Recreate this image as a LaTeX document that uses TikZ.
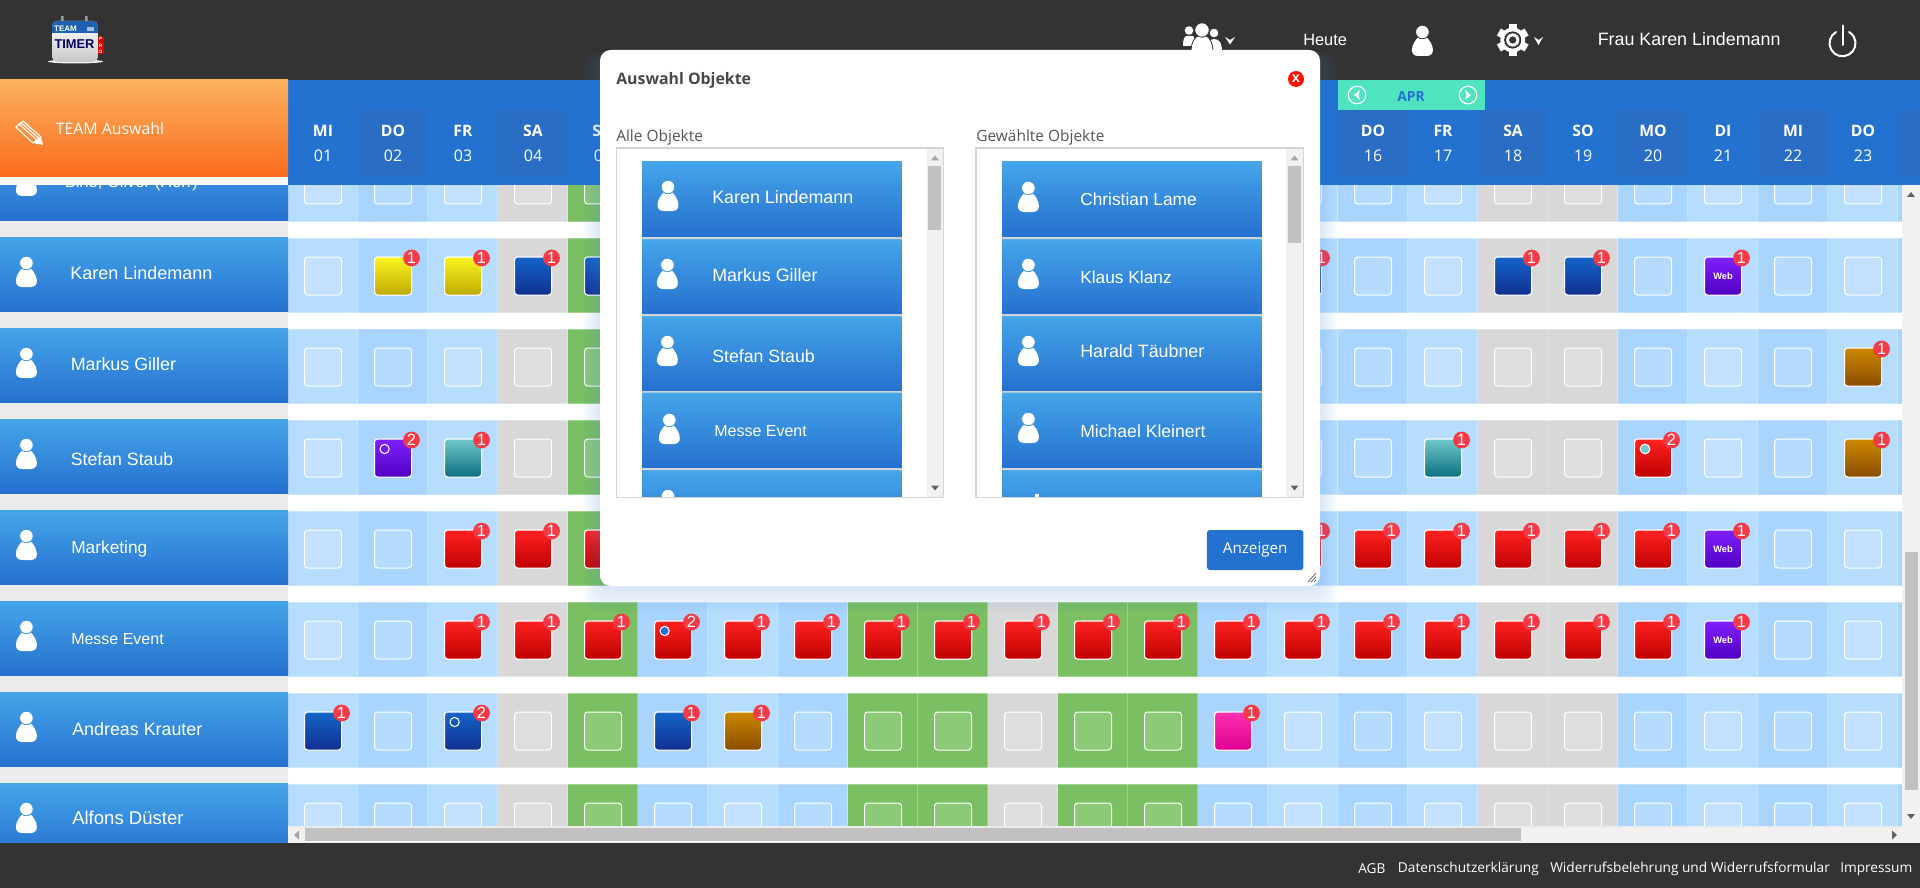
\documentclass[tikz,border=0pt]{standalone}
\usepackage{fontspec}
\setmainfont{Liberation Sans}
\newfontfamily\osf{Open Sans}
\definecolor{bar}{HTML}{333333}
\definecolor{hdr}{HTML}{2472D0}
\definecolor{hdrD}{HTML}{2A6DC4}
\definecolor{lblT}{HTML}{45A5E8}
\definecolor{lblB}{HTML}{2570CF}
\definecolor{orT}{HTML}{FBB160}
\definecolor{orB}{HTML}{FA6C1C}
\definecolor{gapg}{HTML}{EBEBEB}
\definecolor{cellL}{HTML}{B6DCFE}
\definecolor{cellD}{HTML}{A8D4FD}
\definecolor{cellG}{HTML}{D8D8D8}
\definecolor{cellV}{HTML}{7ABF62}
\definecolor{boxL}{HTML}{C3E1FE}
\definecolor{boxD}{HTML}{B5DBFF}
\definecolor{boxG}{HTML}{DEDEDE}
\definecolor{boxV}{HTML}{8CCA78}
\definecolor{yelT}{HTML}{FBF521}\definecolor{yelB}{HTML}{BFA900}
\definecolor{bluT}{HTML}{1464C8}\definecolor{bluB}{HTML}{113090}
\definecolor{redT}{HTML}{FF2222}\definecolor{redB}{HTML}{BF0000}
\definecolor{purT}{HTML}{8020FF}\definecolor{purB}{HTML}{5000C0}
\definecolor{teaT}{HTML}{70C8C8}\definecolor{teaB}{HTML}{0A7080}
\definecolor{broT}{HTML}{CC8800}\definecolor{broB}{HTML}{8A4C00}
\definecolor{pinT}{HTML}{FF30B0}\definecolor{pinB}{HTML}{E00090}
\definecolor{badgec}{HTML}{F83A46}
\definecolor{apr}{HTML}{50E3C0}
\definecolor{track}{HTML}{F1F1F1}
\definecolor{thumb}{HTML}{C1C1C1}
\definecolor{arrowg}{HTML}{A3A3A3}
\definecolor{txtg}{HTML}{555555}
\definecolor{shad}{HTML}{4A90E2}
\tikzset{
 sq/.style={line width=.75pt,draw=white,rounded corners=2.4pt},
 evtbox/.style={line width=.75pt,draw=white,rounded corners=2.4pt},
 badge/.style={circle,fill=badgec,minimum size=12.6pt,inner sep=0pt,text=white,font=\fontsize{12.2}{13}\selectfont},
 rowtxt/.style={anchor=west,inner sep=0pt,text=white},
 daytop/.style={inner sep=0pt,text=white,font=\osf\bfseries\fontsize{11.8}{14}\selectfont},
 daynum/.style={inner sep=0pt,text=white,font=\osf\fontsize{12}{14}\selectfont},
 toptxt/.style={anchor=west,inner sep=0pt,text=white},
 foot/.style={anchor=west,inner sep=0pt,text=white,font=\osf\fontsize{10.25}{12}\selectfont},
 modallbl/.style={anchor=west,inner sep=0pt,text=txtg,font=\osf\fontsize{11.6}{13}\selectfont},
 entry/.style={top color=lblT,bottom color=lblB},
 tri/.style={fill=arrowg},
 caret/.style={fill=white},
}
% person icon: head centre #1,#2 ; #3 colour of the notch
\newcommand\personicon[3]{%
 \begin{scope}[shift={(#1,#2)}]
  \fill[white] (-4,5) .. controls (-7,8) and (-10.5,13) .. (-10.5,18)
    .. controls (-10.5,22) and (-8,24) .. (-4,24) -- (4,24)
    .. controls (8,24) and (10.5,22) .. (10.5,18)
    .. controls (10.5,13) and (7,8) .. (4,5) -- cycle;
  \fill[white,draw=#3,line width=.6pt] (0,0) circle[radius=6.8];
 \end{scope}}
\begin{document}
\begin{tikzpicture}[x=0.75pt,y=-0.75pt]
\useasboundingbox (0,0) rectangle (1920,888);
\fill[white] (0,0) rectangle (1920,888);
% left column gap colour
\fill[gapg] (0,185) rectangle (288,843);
% calendar cells
\begin{scope}
\clip (288,185) rectangle (1902,826);
\foreach \r in {0,...,7}{
 \foreach \c/\k in {0/L,1/D,2/L,3/G,4/V,5/D,6/L,7/D,8/V,9/V,10/G,11/V,12/V,13/D,14/L,15/D,16/L,17/G,18/G,19/D,20/L,21/D,22/L,23/D}{
  \pgfmathsetmacro\cx{288+70*\c}
  \pgfmathsetmacro\cy{146+91*\r}
  \fill[cell\k] (\cx,\cy+1) rectangle (\cx+70,\cy+75.5);
  \draw[white,opacity=.3,line width=.8pt] (\cx+70,\cy+1) -- (\cx+70,\cy+75.5);
  \draw[white,opacity=.3,line width=.6pt] (\cx,\cy+1) -- (\cx+70,\cy+1) (\cx,\cy+75.5) -- (\cx+70,\cy+75.5);
  \filldraw[sq,fill=box\k] (\cx+16.5,\cy+20) rectangle (\cx+53.5,\cy+58);
 }
}
% events
\foreach \c/\r/\k/\n in {1/1/yel/1,2/1/yel/1,3/1/blu/1,4/1/blu/1,14/1/blu/1,17/1/blu/1,18/1/blu/1,
 22/2/bro/1,
 1/3/pur/2,2/3/tea/1,16/3/tea/1,19/3/red/2,22/3/bro/1,
 2/4/red/1,3/4/red/1,4/4/red/1,14/4/red/1,15/4/red/1,16/4/red/1,17/4/red/1,18/4/red/1,19/4/red/1,
 2/5/red/1,3/5/red/1,4/5/red/1,5/5/red/2,6/5/red/1,7/5/red/1,8/5/red/1,9/5/red/1,10/5/red/1,11/5/red/1,12/5/red/1,13/5/red/1,14/5/red/1,15/5/red/1,16/5/red/1,17/5/red/1,18/5/red/1,19/5/red/1,
 0/6/blu/1,2/6/blu/2,5/6/blu/1,6/6/bro/1,13/6/pin/1,
 20/1/pur/1,20/4/pur/1,20/5/pur/1}{
  \pgfmathsetmacro\bx{288+70*\c+16.5}
  \pgfmathsetmacro\by{146+91*\r+20}
  \shadedraw[evtbox,top color=\k T,bottom color=\k B] (\bx,\by) rectangle (\bx+37,\by+38);
  \ifnum\c=20\relax
   \node[inner sep=0pt,text=white,font=\bfseries\fontsize{7}{8}\selectfont] (web\r) at (\bx+18.5,\by+19) {Web};
  \fi
  \node[badge] (b\c r\r) at (\bx+37,\by+1) {\n};
 }
% markers inside events
\draw[white,line width=.8pt] (384.6,449) circle[radius=4.6];
\draw[white,line width=.8pt] (454.6,722) circle[radius=4.6];
\filldraw[draw=white,fill=hdr,line width=.8pt] (664.6,631) circle[radius=4.6];
\filldraw[draw=white,fill=teaT,line width=.8pt] (1645,449) circle[radius=4.8];
\end{scope}
% left labels
\begin{scope}
\clip (0,185) rectangle (288,843);
\foreach \r in {0,...,7}{
 \pgfmathsetmacro\ly{146+91*\r}
 \shade[top color=lblT,bottom color=lblB] (0,\ly) rectangle (288,\ly+74.6);
 \personicon{26.4}{\ly+26}{lblT!70!lblB}
}
\node[rowtxt,font=\fontsize{12.4}{15}\selectfont] (lbl0) at (64.5,183) {Bino, Oliver (Herr)};
\foreach \n/\x/\y/\s/\t in {1/70/273/13.5/Karen Lindemann,2/70.5/364/13.4/Markus Giller,3/70.5/459/13.3/Stefan Staub,4/71/549/13/Marketing,5/71/639/12/Messe Event,6/72/729/13.4/Andreas Krauter,7/72/818/13.9/Alfons Düster}{
 \node[rowtxt,font=\fontsize{\s}{15}\selectfont] (lbl\n) at (\x,\y) {\t};
}
\end{scope}
% top bar
\fill[bar] (0,0) rectangle (1920,80);
% logo
\fill[white!90!gray] (75.5,61.5) ellipse[x radius=27.5,y radius=2];
\fill[gray!80] (61,16) rectangle (63.5,25) (85,16) rectangle (87.5,25);
\fill[red!85!black] (96,37) rectangle (103.5,54);
\node[inner sep=0pt,align=center,text=white,font=\bfseries\fontsize{3.6}{4.6}\selectfont] (logopro) at (100.6,45.5) {P\\R\\O};
\shade[top color=white,bottom color=black!22,rounded corners=4pt] (52,21) rectangle (98,62);
\begin{scope}
\clip[rounded corners=4pt] (52,21) rectangle (98,62);
\fill[hdr!85!black] (52,21) rectangle (98,33);
\end{scope}
\fill[white,opacity=.6] (87,27) rectangle (94,31);
\node[inner sep=0pt,text=white,font=\bfseries\fontsize{6}{7}\selectfont] (logoteam) at (65.5,29) {TEAM};
\node[inner sep=0pt,text=blue!40!black,font=\bfseries\fontsize{9.6}{11}\selectfont] (logotimer) at (74.5,44) {TIMER};
% header
\fill[hdr] (288,80) rectangle (1920,185);
\foreach \c in {1,3,5,7,9,11,13,15,17,19,21,23}{
 \fill[hdrD] (288+70*\c,110) rectangle ({min(288+70*\c+70,1920)},176);
}
\foreach \c/\d/\nn in {0/MI/01,1/DO/02,2/FR/03,3/SA/04,4/SO/05,15/DO/16,16/FR/17,17/SA/18,18/SO/19,19/MO/20,20/DI/21,21/MI/22,22/DO/23}{
 \node[daytop] (d\nn) at (288+70*\c+35,131) {\d};
 \node[daynum] (n\nn) at (288+70*\c+35,156) {\nn};
}
% month switcher
\fill[apr] (1338,80) rectangle (1485,110);
\node[inner sep=0pt,text=hdr,font=\osf\bfseries\fontsize{10.4}{12}\selectfont] (apr) at (1411,97) {APR};
\draw[white,line width=.9pt] (1357,95) circle[radius=8.8] (1468,95) circle[radius=8.8];
\fill[white] (1360,90) -- (1354,95) -- (1360,100) -- (1358.5,95) -- cycle;
\fill[white] (1465,90) -- (1471,95) -- (1465,100) -- (1466.5,95) -- cycle;
% orange block
\shade[top color=orT,bottom color=orB] (0,80) rectangle (288,177);
\fill[white] (0,177) rectangle (288,185);
\node[rowtxt,font=\osf\fontsize{11.9}{14}\selectfont] (team) at (55.5,129) {TEAM Auswahl};
% pencil
\draw[white,line width=.9pt,line join=round] (16,127) -- (23,121) -- (41,137) -- (33,143) -- cycle;
\draw[white,line width=.8pt] (19,124) -- (37,140) (21,122.5) -- (39,138.5);
\fill[white] (33,143) -- (41,137) -- (43,145) -- cycle;
% right top bar texts and icons
\node[toptxt,font=\fontsize{12.3}{14}\selectfont] (heute) at (1303,40) {Heute};
\node[toptxt,font=\fontsize{13.4}{15}\selectfont] (fraukaren) at (1597.5,39) {Frau Karen Lindemann};
\personicon{1422.4}{32}{bar}
% people icon
\fill[white] (1183,46) .. controls (1183,40) and (1184,36) .. (1187,36) -- (1193,36) .. controls (1195,38) and (1195,42) .. (1195,46) -- cycle;
\fill[white] (1189,30.5) circle[radius=4.3];
\fill[white] (1208,52) -- (1209,42) .. controls (1211,38) and (1217,38) .. (1220,42) .. controls (1222,46) and (1222,50) .. (1222,52) -- cycle;
\fill[white,draw=bar,line width=.5pt] (1214,33) circle[radius=4.8];
\fill[white,draw=bar,line width=.6pt] (1191,52) .. controls (1191,42) and (1195,37) .. (1198,36) -- (1206,36) .. controls (1209,37) and (1213,42) .. (1213,52) -- cycle;
\fill[white,draw=bar,line width=.6pt] (1202,30) circle[radius=7.2];
\fill[caret] (1225,37) -- (1230,40) -- (1235,37) -- (1230,44.5) -- cycle;
% gear
\foreach \a in {0,60,120,180,240,300}{
 \fill[white,rotate around={\a:(1512.7,40)}] (1508.7,24) rectangle (1516.7,32);
}
\fill[white] (1512.7,40) circle[radius=12.5];
\fill[bar] (1512.7,40) circle[radius=8.6];
\fill[white] (1512.7,40) circle[radius=6.6];
\fill[bar] (1512.7,40) circle[radius=3.6];
\fill[caret] (1534,37) -- (1538.5,40) -- (1543,37) -- (1538.5,45) -- cycle;
% power icon
\draw[white,line width=1.5pt,line cap=round] (1836,32) arc[start angle=240,end angle=-60,radius=13];
\draw[white,line width=1.5pt,line cap=round] (1843,25.5) -- (1843,45);
% main scrollbars
\fill[track] (1902,185) rectangle (1920,843);
\fill[thumb] (1905,552) rectangle (1918,790);
\fill[tri,arrowg!60!black] (1907,197) -- (1911,192) -- (1915,197) -- cycle;
\fill[tri,arrowg!60!black] (1907,814) -- (1911,819) -- (1915,814) -- cycle;
\fill[gapg] (288,826) rectangle (1902,828);
\fill[track] (288,828) rectangle (1902,843);
\fill[thumb] (305,828) rectangle (1521,841);
\fill[tri] (299,830.5) -- (294,835) -- (299,839.5) -- cycle;
\fill[tri,arrowg!60!black] (1892,830.5) -- (1897,835) -- (1892,839.5) -- cycle;
% footer
\fill[bar] (0,843) rectangle (1920,888);
\node[foot] (agb) at (1358,869) {AGB};
\node[foot] (daten) at (1397.7,869) {Datenschutzerklärung};
\node[foot] (wider) at (1550,869) {Widerrufsbelehrung und Widerrufsformular};
\node[foot] (imp) at (1840,869) {Impressum};
% modal shadow
\foreach \d in {3,6,...,24}{
 \fill[shad,opacity=.025,rounded corners=8pt] (600-.7*\d,60-.3*\d) rectangle (1320+.7*\d,588+\d);
}
% modal
\fill[white,rounded corners=8pt] (600,50) rectangle (1320,586);
\node[anchor=west,inner sep=0pt,text=black!72,font=\osf\bfseries\fontsize{11.9}{13}\selectfont] (title) at (616,80) {Auswahl Objekte};
\node[circle,fill=red!85!orange,minimum size=12pt,inner sep=0pt,text=white,font=\bfseries\fontsize{11}{11}\selectfont] (close) at (1296,79) {x};
\node[modallbl] (alle) at (616,137) {Alle Objekte};
\node[modallbl] (gew) at (976,137) {Gewählte Objekte};
% list boxes
\foreach \lx/\ex in {616.5/642,976/1002}{
 \begin{scope}
 \clip (\lx,148) rectangle (\lx+327,497.5);
 \foreach \a/\b in {161.5/237,239/314,316/391,392.5/468,470/546}{
  \shade[entry] (\ex,\a) rectangle (\ex+259.5,\b);
 }
 \fill[black!17] (\ex,237) rectangle (\ex+259.5,239) (\ex,314) rectangle (\ex+259.5,316) (\ex,391) rectangle (\ex+259.5,392.5) (\ex,468) rectangle (\ex+259.5,470);
 \fill[track] (\lx+310,148) rectangle (\lx+327,497.5);
 \fill[tri] (\lx+314.5,160.5) -- (\lx+318.5,155.5) -- (\lx+322.5,160.5) -- cycle;
 \fill[tri,arrowg!60!black] (\lx+314.5,485.5) -- (\lx+318.5,490.5) -- (\lx+322.5,485.5) -- cycle;
 \end{scope}
}
\fill[thumb] (928,166) rectangle (941,230);
\fill[thumb] (1288,166) rectangle (1301,243);
\begin{scope}
\clip (642,161) rectangle (901.5,497.5);
\personicon{668}{187}{lblT!70!lblB}
\personicon{667.4}{265}{lblT!70!lblB}
\personicon{667.4}{342}{lblT!70!lblB}
\personicon{669.3}{420}{lblT!70!lblB}
\personicon{668}{496}{lblT!70!lblB}
\end{scope}
\begin{scope}
\clip (1002,161) rectangle (1261.5,497.5);
\personicon{1028.4}{188}{lblT!70!lblB}
\personicon{1028.4}{265}{lblT!70!lblB}
\personicon{1028.4}{342}{lblT!70!lblB}
\personicon{1028.4}{419}{lblT!70!lblB}
\fill[white] (1035,494) rectangle (1039,497.5);
\end{scope}
\foreach \n/\x/\y/\s/\t in {l1/712/197.5/13.4/Karen Lindemann,l2/712/275/13.4/Markus Giller,l3/712/356/13.3/Stefan Staub,l4/714/431/12/Messe Event,r1/1080/199/13/Christian Lame,r2/1080/277/13/Klaus Klanz,r3/1080/351/13.4/Harald Täubner,r4/1080/431/13.2/Michael Kleinert}{
 \node[rowtxt,font=\fontsize{\s}{15}\selectfont] (ent\n) at (\x,\y) {\t};
}
\draw[black!17,line width=1pt] (616.5,148) rectangle (943.5,497.5);
\draw[black!17,line width=1pt] (976,148) rectangle (1303.5,497.5);
% button
\node[minimum width=72.4pt,minimum height=30pt,inner sep=0pt,fill=hdr,rounded corners=2.2pt,text=white,font=\osf\fontsize{11.4}{13}\selectfont] (anzeigen) at (1255.2,550) {\raisebox{-1pt}{Anzeigen}};
% resize grip
\draw[black!65,line width=.5pt] (1308,582) -- (1316,573) (1311,582) -- (1316,576.5) (1314,582) -- (1316,579.8);
\end{tikzpicture}
\end{document}
